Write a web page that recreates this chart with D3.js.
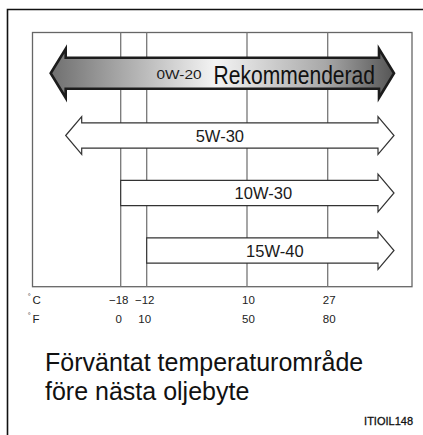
<!DOCTYPE html>
<html>
<head>
<meta charset="utf-8">
<script src="https://cdn.jsdelivr.net/npm/d3@7"></script>
<style>
  html, body { margin: 0; padding: 0; background: #fff; }
  svg { display: block; font-family: "Liberation Sans", Arial, Helvetica, sans-serif; }
</style>
</head>
<body>
<svg id="chart" width="423" height="435"></svg>
<script>
// Temperature ticks (°C with matching °F)
const celsiusTicks = [-18, -12, 10, 27];
const fahrenheitTicks = [0, 10, 50, 80];

// Oil grades, top to bottom; lowerLimit null means "usable at any lower temperature"
const grades = ["0W-20", "5W-30", "10W-30", "15W-40"];
const lowerLimit = [null, null, -18, -12];
const recommended = [true, false, false, false];
const recommendedText = "Rekommenderad";

const titleLines = ["Förväntat temperaturområde", "före nästa oljebyte"];
const figureCode = "ITIOIL148";

// Layout
const W = 423, H = 435;
const plot = { left: 32.5, top: 32.5, right: 412, bottom: 286.7 };
const svg = d3.select("#chart");

// Temperature axis: piecewise scale through the printed ticks
const x = d3.scaleLinear()
  .domain(celsiusTicks)
  .range([120.7, 146.7, 247, 327.7]);

// Row centres for the grade arrows
const y = d3.scaleOrdinal().domain(grades).range([73.3, 135.5, 193, 250.5]);

// Outer frame (top and left edges)
svg.append("path")
  .attr("d", `M7.5,${H} V9.5 H${W}`)
  .attr("fill", "none").attr("stroke", "#111").attr("stroke-width", 1.6);

// Plot box
svg.append("rect")
  .attr("x", plot.left).attr("y", plot.top)
  .attr("width", plot.right - plot.left).attr("height", plot.bottom - plot.top)
  .attr("fill", "#fff").attr("stroke", "#666").attr("stroke-width", 1.3);

// Vertical grid lines at each tick
svg.append("g").selectAll("line").data(celsiusTicks).join("line")
  .attr("x1", d => x(d)).attr("x2", d => x(d))
  .attr("y1", plot.top).attr("y2", plot.bottom)
  .attr("stroke", "#777").attr("stroke-width", 1.3);

// Gradient for the recommended grade
const defs = svg.append("defs");
const grad = defs.append("linearGradient").attr("id", "recGrad")
  .attr("x1", "0%").attr("x2", "100%").attr("y1", "0%").attr("y2", "0%");
grad.append("stop").attr("offset", "0%").attr("stop-color", "#6f6f6f");
grad.append("stop").attr("offset", "48%").attr("stop-color", "#f4f4f4");
grad.append("stop").attr("offset", "80%").attr("stop-color", "#a8a8a8");
grad.append("stop").attr("offset", "100%").attr("stop-color", "#555");

const line = d3.line();

function arrowPoints(x0, x1, cy, shaftHalf, headHalf, headLen, twoHeads) {
  const pts = [];
  if (twoHeads) {
    pts.push([x0, cy], [x0 + headLen, cy - headHalf], [x0 + headLen, cy - shaftHalf]);
  } else {
    pts.push([x0, cy + shaftHalf], [x0, cy - shaftHalf]);
  }
  pts.push([x1 - headLen, cy - shaftHalf], [x1 - headLen, cy - headHalf], [x1, cy],
           [x1 - headLen, cy + headHalf], [x1 - headLen, cy + shaftHalf]);
  if (twoHeads) {
    pts.push([x0 + headLen, cy + shaftHalf], [x0 + headLen, cy + headHalf]);
  }
  return pts;
}

const rows = grades.map((g, i) => ({
  grade: g, low: lowerLimit[i], rec: recommended[i]
}));

const arrowRight = plot.right - 18;

const arrows = svg.append("g").selectAll("g").data(rows).join("g");

arrows.append("path")
  .attr("d", d => {
    const cy = y(d.grade);
    if (d.rec) {
      return line(arrowPoints(plot.left + 18.2, arrowRight, cy, 15.5, 24.5, 15, true)) + "Z";
    }
    const open = d.low === null;
    const x0 = open ? plot.left + 33.2 : x(d.low);
    return line(arrowPoints(x0, arrowRight, cy, 12.6, 18.9, 16, open)) + "Z";
  })
  .attr("fill", d => d.rec ? "url(#recGrad)" : "#fff")
  .attr("stroke", d => d.rec ? "#1c1c1c" : "#333")
  .attr("stroke-width", d => d.rec ? 2.6 : 1.2)
  .attr("stroke-linejoin", "miter");

// Grade labels
const labelDx = [0, -10, 14, 12.5];
arrows.filter(d => !d.rec).append("text")
  .attr("x", (d, i) => {
    const idx = grades.indexOf(d.grade);
    const x0 = d.low === null ? plot.left + 33.2 + 16 : x(d.low);
    return (x0 + arrowRight - 16) / 2 + labelDx[idx];
  })
  .attr("y", d => y(d.grade) + 6)
  .attr("text-anchor", "middle")
  .attr("font-size", 16.5)
  .attr("fill", "#1a1a1a")
  .text(d => d.grade);

// Recommended grade label
const recRow = rows.find(d => d.rec);
svg.append("text")
  .attr("x", 156.5).attr("y", y(recRow.grade) + 5.3)
  .attr("font-size", 13.5)
  .attr("fill", "#1a1a1a")
  .attr("textLength", 45).attr("lengthAdjust", "spacingAndGlyphs")
  .text(recRow.grade);
svg.append("text")
  .attr("x", 213.5).attr("y", y(recRow.grade) + 10.2)
  .attr("font-size", 25)
  .attr("fill", "#111")
  .attr("textLength", 161.5).attr("lengthAdjust", "spacingAndGlyphs")
  .text(recommendedText);

// Axis unit labels
const units = [{ u: "C", yb: 304 }, { u: "F", yb: 323.3 }];
units.forEach(d => {
  svg.append("text").attr("x", 27.8).attr("y", d.yb - 5.5)
    .attr("font-size", 7.5).attr("fill", "#333").text("°");
  svg.append("text").attr("x", 32.5).attr("y", d.yb)
    .attr("font-size", 11.5).attr("fill", "#222").text(d.u);
});

// Tick values
const fmt = v => v < 0 ? "\u2212" + Math.abs(v) : String(v);
svg.append("g").selectAll("text").data(celsiusTicks).join("text")
  .attr("x", d => x(d) + (d < 0 ? -2 : 1.5))
  .attr("y", 304)
  .attr("text-anchor", "middle")
  .attr("font-size", 11.5).attr("fill", "#222")
  .text(fmt);
svg.append("g").selectAll("text").data(fahrenheitTicks).join("text")
  .attr("x", (d, i) => x(celsiusTicks[i]) + (i < 2 ? -2 : 1.5))
  .attr("y", 323.3)
  .attr("text-anchor", "middle")
  .attr("font-size", 11.5).attr("fill", "#222")
  .text(fmt);

// Caption
svg.append("g").selectAll("text").data(titleLines).join("text")
  .attr("x", 45).attr("y", (d, i) => 370.5 + i * 29)
  .attr("font-size", 25).attr("fill", "#111")
  .text(d => d);

// Figure code
svg.append("text")
  .attr("x", 413).attr("y", 425)
  .attr("text-anchor", "end")
  .attr("font-size", 11).attr("fill", "#111")
  .attr("stroke", "#111").attr("stroke-width", 0.3)
  .text(figureCode);
</script>
</body>
</html>
